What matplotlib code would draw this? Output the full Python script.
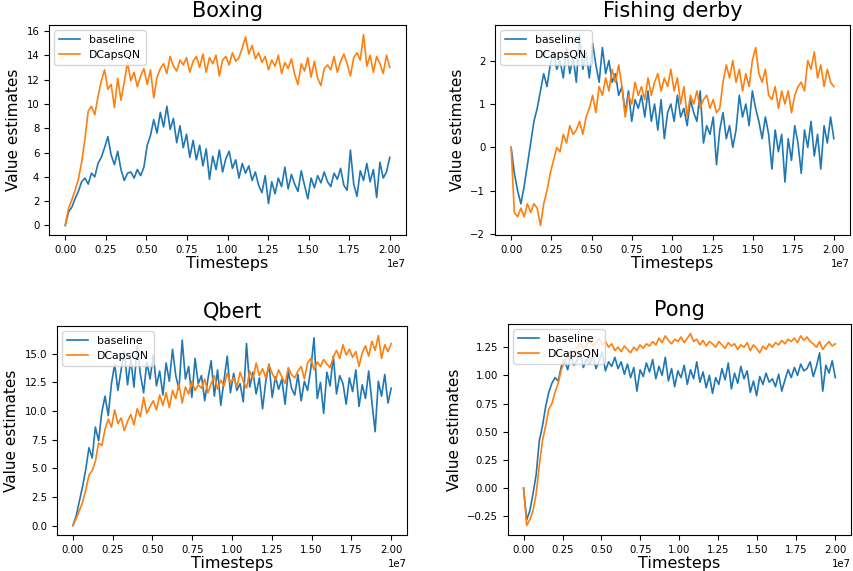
import numpy as np
import matplotlib
matplotlib.use("Agg")
import matplotlib.pyplot as plt

# Value estimates, 100 samples per run
timesteps = np.linspace(0, 2.0e7, 100)

boxing_baseline = [
    0.0, 1.1, 1.5, 2.2, 2.8, 3.6, 3.9, 3.4, 4.3, 4.0,
    5.1, 5.6, 6.4, 7.3, 5.8, 5.0, 6.1, 4.6, 3.7, 4.3,
    4.4, 3.9, 4.6, 4.1, 4.8, 6.6, 7.4, 8.7, 7.6, 9.3,
    8.1, 9.8, 7.9, 8.8, 6.8, 8.2, 6.4, 7.5, 5.6, 7.0,
    5.4, 6.6, 4.9, 6.3, 3.8, 5.7, 4.6, 6.2, 4.4, 5.5,
    6.1, 4.7, 5.4, 3.9, 5.1, 4.3, 4.9, 3.7, 4.4, 3.3,
    2.7, 4.1, 1.8, 3.6, 2.6, 3.9, 3.2, 4.8, 3.0, 4.2,
    3.4, 2.8, 4.5, 3.3, 2.2, 3.9, 3.1, 4.1, 3.5, 4.4,
    3.6, 3.2, 4.3, 3.8, 4.7, 3.3, 2.9, 6.2, 3.4, 2.4,
    4.5, 3.7, 5.1, 3.6, 4.6, 2.3, 5.2, 3.9, 4.4, 5.6,
]
boxing_dcaps = [
    0.0, 1.4, 2.1, 2.9, 3.8, 5.2, 7.1, 9.4, 9.8, 9.1,
    10.6, 11.9, 12.8, 11.2, 11.6, 9.7, 12.1, 10.3, 11.8, 13.4,
    11.9, 12.6, 11.4, 12.3, 12.9, 11.6, 12.8, 10.5, 12.2, 12.9,
    13.3, 12.5, 13.9, 13.1, 12.7, 13.6, 13.2, 13.8, 12.6, 13.5,
    13.9, 13.0, 14.1, 12.6, 13.8, 13.3, 14.0, 12.3, 13.6, 13.9,
    13.2, 14.2, 13.5, 13.8, 14.6, 15.5, 14.1, 14.8, 13.7, 14.2,
    13.4, 13.9, 12.8, 13.6, 13.1, 14.0, 12.5, 13.4, 12.9, 13.7,
    12.4, 11.6, 13.3, 12.7, 13.8, 12.2, 13.5, 12.1, 11.5, 12.9,
    13.2, 12.8, 13.9, 12.6, 13.5, 14.1, 13.3, 12.3, 13.8, 14.2,
    13.6, 15.7, 13.1, 14.0, 12.6, 13.9, 13.3, 12.5, 14.0, 13.0,
]

fishing_baseline = [
    0.0, -0.6, -1.0, -1.3, -0.9, -0.4, 0.1, 0.6, 0.9, 1.3,
    1.7, 1.4, 1.9, 2.2, 1.8, 2.0, 1.6, 2.3, 1.7, 2.1,
    1.5, 2.6, 1.8, 2.2, 1.6, 2.4, 1.9, 1.5, 2.3, 1.7,
    2.0, 1.5, 1.7, 1.2, 1.4, 0.8, 1.3, 0.6, 1.1, 0.9,
    1.2, 0.7, 1.3, 0.6, 1.0, 0.4, 1.1, 0.2, 0.8, 1.0,
    0.6, 1.2, 0.7, 0.9, 0.5, 1.1, 0.8, 0.6, 1.3, 0.1,
    0.5, 0.3, 0.7, -0.4, 0.4, 0.8, 0.2, 0.5, 0.0, 0.4,
    1.2, 0.7, 1.0, 0.5, 1.3, 0.9, 0.6, 0.2, 0.7, 0.3,
    -0.5, 0.4, -0.1, 0.3, -0.8, 0.2, -0.3, 0.5, 0.1, -0.6,
    0.4, 0.0, 0.6, -0.2, 0.3, -0.5, 0.5, 0.1, 0.7, 0.2,
]
fishing_dcaps = [
    0.0, -1.5, -1.6, -1.4, -1.6, -1.3, -1.5, -1.3, -1.4, -1.8,
    -1.3, -1.0, -0.6, -0.3, 0.0, -0.1, 0.3, 0.1, 0.5, 0.3,
    0.4, 0.6, 0.3, 0.7, 0.9, 1.2, 0.8, 1.4, 1.2, 1.6,
    1.3, 1.8, 1.5, 1.9, 1.4, 0.7, 1.2, 1.0, 1.5, 1.2,
    1.4, 1.1, 1.6, 1.2, 1.5, 1.7, 1.3, 1.6, 1.4, 1.8,
    1.3, 1.6, 1.0, 1.4, 0.7, 1.2, 1.0, 1.3, 0.9, 1.1,
    1.2, 0.9, 1.1, 0.8, 0.9, 1.5, 1.9, 1.6, 2.0, 1.5,
    1.8, 1.3, 1.7, 1.4, 2.0, 2.3, 1.7, 1.5, 1.8, 1.2,
    1.1, 1.4, 0.9, 1.3, 1.0, 1.3, 0.8, 1.2, 1.4, 1.5,
    1.3, 2.0, 1.8, 2.2, 1.6, 1.9, 1.4, 1.8, 1.5, 1.4,
]

qbert_baseline = [
    0.0, 0.8, 2.1, 3.4, 4.9, 6.8, 5.9, 8.6, 7.4, 9.9,
    11.3, 9.6, 12.4, 14.1, 11.8, 13.6, 15.2, 12.3, 14.5, 12.1,
    15.7, 13.2, 11.6, 14.3, 12.8, 14.9, 12.2, 13.5, 11.4, 14.2,
    12.6, 15.4, 13.1, 11.9, 16.2, 12.8, 13.9, 11.2, 14.6, 12.4,
    13.1, 10.9, 12.8, 14.4, 11.3, 13.6, 10.5, 12.7, 14.8, 11.6,
    13.3, 11.8, 12.4, 10.8, 15.9, 12.1, 13.4, 11.5, 12.9, 10.2,
    12.6, 14.1, 11.2, 13.0, 11.9, 12.8, 10.6, 13.5, 12.0, 11.4,
    13.2, 10.9, 12.6, 11.8, 13.7, 16.4, 11.1, 12.5, 9.8, 13.4,
    12.2, 14.8, 11.5, 13.1, 12.4, 10.6, 12.9, 11.7, 13.6, 10.4,
    12.3, 11.1, 13.5, 10.8, 8.2, 12.6, 11.3, 13.2, 10.7, 12.0,
]
qbert_dcaps = [
    0.0, 0.6, 1.3, 2.0, 3.1, 4.4, 4.8, 5.6, 7.2, 7.0,
    8.4, 9.3, 8.6, 10.1, 8.9, 9.4, 8.3, 9.1, 9.7, 8.8,
    10.2, 9.5, 11.2, 9.8, 10.4, 10.9, 10.1, 11.4, 10.5, 11.6,
    10.3, 11.8, 11.1, 12.4, 10.7, 12.1, 11.5, 12.6, 11.8, 12.3,
    12.0, 12.8, 11.6, 12.4, 13.1, 11.9, 12.7, 12.2, 13.3, 12.5,
    12.9, 12.1, 13.4, 12.6, 12.0, 13.5, 12.8, 14.2, 13.1, 13.7,
    12.9, 14.0, 13.3, 12.7, 13.6, 13.0, 12.4, 13.8, 13.2, 12.9,
    13.5, 13.9, 12.8, 14.2, 14.6, 13.6, 14.3, 13.9, 14.5, 14.1,
    13.8, 14.7, 15.3, 14.6, 15.8, 14.9, 15.4, 14.7, 15.2, 13.9,
    15.1, 15.7, 14.8, 16.1, 15.3, 16.6, 14.6, 15.8, 15.2, 15.9,
]

pong_baseline = [
    0.0, -0.28, -0.2, -0.05, 0.12, 0.42, 0.55, 0.72, 0.85, 0.93,
    0.98, 0.95, 1.08, 1.14, 1.05, 1.17, 1.09, 1.13, 1.2, 1.07,
    1.15, 1.1, 1.18, 1.06, 1.13, 1.21, 1.04, 1.12, 1.08, 1.16,
    1.06, 1.12, 1.01, 1.1, 0.98, 1.07, 0.86, 1.05, 0.99, 1.11,
    1.03, 1.14, 0.97, 1.08, 1.0, 1.16, 0.95, 1.06, 0.9, 1.04,
    0.98, 1.09, 0.92, 1.05, 0.97, 1.12, 0.94, 1.03, 0.89, 1.0,
    0.84, 0.98, 0.92, 1.06, 0.96, 1.11, 0.88, 1.02, 0.93, 1.08,
    0.97, 1.04, 0.85, 0.95, 0.82, 0.99, 0.92, 1.02, 0.94, 0.97,
    0.9, 1.01, 0.86, 0.96, 1.05, 0.98, 1.07, 1.0, 1.1, 1.04,
    1.06, 1.12, 0.99, 1.08, 1.2, 0.86, 1.09, 1.02, 1.13, 0.98,
]
pong_dcaps = [
    0.0, -0.33, -0.28, -0.2, -0.05, 0.2, 0.42, 0.55, 0.7, 0.75,
    0.85, 0.93, 1.05, 1.12, 1.18, 1.22, 1.19, 1.25, 1.28, 1.24,
    1.27, 1.31, 1.26, 1.29, 1.33, 1.27, 1.3, 1.25, 1.28, 1.22,
    1.25, 1.21, 1.26, 1.23, 1.2, 1.25, 1.22, 1.27, 1.24, 1.28,
    1.26, 1.3, 1.27, 1.33, 1.29, 1.35, 1.31, 1.28, 1.32, 1.3,
    1.34, 1.29, 1.33, 1.37, 1.3, 1.32, 1.27, 1.31, 1.26, 1.3,
    1.28, 1.25, 1.3, 1.27, 1.24, 1.29, 1.26, 1.28, 1.23, 1.27,
    1.25, 1.29, 1.22, 1.27, 1.24, 1.2, 1.26, 1.23, 1.28, 1.25,
    1.29, 1.27, 1.31, 1.28, 1.32, 1.3, 1.33, 1.29, 1.35, 1.31,
    1.34, 1.3, 1.28, 1.25, 1.3, 1.23, 1.27, 1.3, 1.26, 1.28,
]

games = ["Boxing", "Fishing derby", "Qbert", "Pong"]
baseline_runs = [boxing_baseline, fishing_baseline, qbert_baseline, pong_baseline]
dcaps_runs = [boxing_dcaps, fishing_dcaps, qbert_dcaps, pong_dcaps]

boxes = [
    [0.0574, 0.5884, 0.418, 0.3678],
    [0.5796, 0.5884, 0.4157, 0.3678],
    [0.0667, 0.0630, 0.410, 0.3660],
    [0.5948, 0.0630, 0.4016, 0.3695],
]


def main():
    fig = plt.figure(figsize=(8.54, 5.71), dpi=100)
    for title, base, dcaps, box in zip(games, baseline_runs, dcaps_runs, boxes):
        ax = fig.add_axes(box)
        ax.plot(timesteps, base, color="#1f77b4", lw=1.2, label="baseline")
        ax.plot(timesteps, dcaps, color="#ff7f0e", lw=1.2, label="DCapsQN")
        ax.set_title(title, fontsize=15)
        ax.set_xlabel("Timesteps", fontsize=11.5, labelpad=1)
        ax.set_ylabel("Value estimates", fontsize=11)
        ax.tick_params(labelsize=7.3)
        ax.xaxis.get_offset_text().set_fontsize(7.3)
        ax.legend(loc="upper left", fontsize=7.8)
    fig.savefig("out.png", dpi=100)


if __name__ == "__main__":
    main()
